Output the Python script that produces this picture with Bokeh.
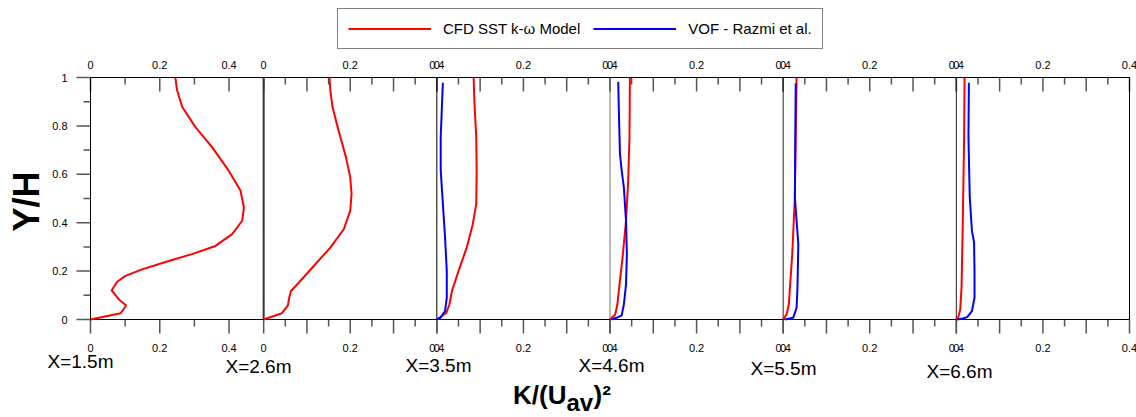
from math import pi
from bokeh.plotting import figure
from bokeh.models import Range1d, Label, Legend, LegendItem
from bokeh.embed import file_html
from bokeh.resources import INLINE

# ---------------- data ----------------
stations = ["X=1.5m", "X=2.6m", "X=3.5m", "X=4.6m", "X=5.5m", "X=6.6m"]
panel_max = [0.5, 0.4, 0.4, 0.4, 0.4, 0.4]
label_ticks = [[0, 0.2, 0.4]] * 6
major_ticks = [[0, 0.2, 0.4]] + [[0, 0.1, 0.2, 0.3, 0.4]] * 5
minor_ticks = [[0.1, 0.3]] + [[0.05, 0.15, 0.25, 0.35]] * 5
y_ticks = [0, 0.2, 0.4, 0.6, 0.8, 1.0]
y_minor = [0.1, 0.3, 0.5, 0.7, 0.9]

# CFD SST k-omega (red), one list per station
cfd_y = [
    [0, 0.026, 0.058, 0.083, 0.120, 0.156, 0.180, 0.207, 0.242, 0.270, 0.304,
     0.353, 0.408, 0.463, 0.533, 0.615, 0.712, 0.795, 0.878, 0.947, 1.0],
    [0, 0.026, 0.058, 0.090, 0.118, 0.152, 0.214, 0.297, 0.373, 0.450, 0.519,
     0.588, 0.671, 0.781, 0.878, 0.947, 1.0],
    [0, 0.028, 0.062, 0.118, 0.200, 0.297, 0.394, 0.477, 0.615, 0.754, 0.892, 1.0],
    [0, 0.021, 0.062, 0.145, 0.256, 0.408, 0.574, 0.754, 1.0],
    [0, 0.021, 0.062, 0.270, 0.505, 0.754, 1.0],
    [0, 0.007, 0.041, 0.131, 0.408, 0.754, 1.0],
]
cfd_k = [
    [0, 0.087, 0.103, 0.082, 0.061, 0.077, 0.101, 0.149, 0.226, 0.293, 0.361,
     0.409, 0.438, 0.443, 0.433, 0.399, 0.351, 0.303, 0.265, 0.250, 0.245],
    [0, 0.042, 0.056, 0.059, 0.063, 0.081, 0.112, 0.154, 0.185, 0.200, 0.203,
     0.200, 0.190, 0.173, 0.159, 0.154, 0.152],
    [0, 0.022, 0.029, 0.035, 0.050, 0.069, 0.083, 0.091, 0.092, 0.091, 0.087, 0.085],
    [0, 0.012, 0.017, 0.022, 0.029, 0.037, 0.042, 0.045, 0.046],
    [0, 0.008, 0.013, 0.021, 0.027, 0.029, 0.031],
    [0, 0.004, 0.009, 0.012, 0.015, 0.018, 0.019],
]

# VOF - Razmi et al. (blue); no data at the first two stations
vof_y = [
    None,
    None,
    [0, 0.007, 0.035, 0.090, 0.200, 0.339, 0.477, 0.615, 0.754, 0.892, 0.978],
    [0, 0.007, 0.017, 0.062, 0.145, 0.270, 0.408, 0.546, 0.615, 0.685, 0.823, 0.982],
    [0, 0.007, 0.048, 0.131, 0.311, 0.408, 0.505, 0.754, 0.975],
    [0, 0.004, 0.010, 0.035, 0.090, 0.200, 0.318, 0.367, 0.505, 0.754, 0.978],
]
vof_k = [
    None,
    None,
    [0, 0.008, 0.019, 0.023, 0.023, 0.019, 0.014, 0.009, 0.009, 0.012, 0.014],
    [0.004, 0.015, 0.027, 0.032, 0.037, 0.039, 0.037, 0.032, 0.027, 0.023, 0.021, 0.019],
    [0.004, 0.023, 0.031, 0.033, 0.035, 0.031, 0.027, 0.028, 0.029],
    [0.002, 0.015, 0.025, 0.036, 0.042, 0.042, 0.041, 0.036, 0.031, 0.028, 0.029],
]

# ---------------- geometry (pixels of the 1136x417 canvas) ----------------
N = len(stations)
W, H = 1136, 417
BOX_L, BOX_R, BOX_T, BOX_B = 90, 1129, 77, 319
PANEL_W = (BOX_R - BOX_L) / N
BOX_H = BOX_B - BOX_T
FONT = "Liberation Sans"
TICK_C = "#555555"
MAJ_LEN, MIN_LEN = 14, 7


def xd(px):      # canvas pixel -> panel units of the main x range
    return (px - BOX_L) / PANEL_W


def yd(py):      # canvas pixel -> Y/H
    return (BOX_B - py) / BOX_H


p = figure(frame_width=W, frame_height=H,
           min_border_left=0, min_border_right=0, min_border_top=0,
           min_border_bottom=0,
           x_range=Range1d(xd(0), xd(W)), y_range=Range1d(yd(H), yd(0)),
           x_axis_type=None, y_axis_type=None,
           output_backend="svg", toolbar_location=None)
p.grid.visible = False
p.outline_line_color = None
p.background_fill_color = "white"
p.border_fill_color = "white"

# one x scale per station: value v of station k sits at k + v / panel_max[k]
p.extra_x_ranges = {
    f"p{k}": Range1d((xd(0) - k) * panel_max[k], (xd(W) - k) * panel_max[k])
    for k in range(N)
}

dy_maj = MAJ_LEN / BOX_H
dy_min = MIN_LEN / BOX_H
dx_maj = MAJ_LEN / PANEL_W
dx_min = MIN_LEN / PANEL_W

# ---- x ticks (top, hanging inside; bottom, hanging outside) ----
for k in range(N):
    rn = f"p{k}"
    for vals, d in ((major_ticks[k], dy_maj), (minor_ticks[k], dy_min)):
        p.segment(x0=vals, y0=[1] * len(vals), x1=vals, y1=[1 - d] * len(vals),
                  x_range_name=rn, line_color=TICK_C, line_width=1.5)
        p.segment(x0=vals, y0=[0] * len(vals), x1=vals, y1=[-d] * len(vals),
                  x_range_name=rn, line_color=TICK_C, line_width=1.5)

# ---- y ticks (outside, left) ----
p.segment(x0=[-dx_maj] * len(y_ticks), y0=y_ticks, x1=[0] * len(y_ticks),
          y1=y_ticks, line_color=TICK_C, line_width=1.5)
p.segment(x0=[-dx_min] * len(y_minor), y0=y_minor, x1=[0] * len(y_minor),
          y1=y_minor, line_color=TICK_C, line_width=1.5)

# ---- station zero lines ----
sep_colors = ["#333333", "#000000", "#777777", "#222222", "#222222"]
sep_widths = [2, 1, 1, 1, 1]
for k in range(1, N):
    p.segment(x0=[0], y0=[0], x1=[0], y1=[1], x_range_name=f"p{k}",
              line_color=sep_colors[k - 1], line_width=sep_widths[k - 1])

# ---- box ----
p.segment(x0=[0, 0, 0, N], y0=[0, 1, 0, 0], x1=[N, N, 0, N], y1=[0, 1, 1, 1],
          line_color="black", line_width=1)

# ---- curves ----
red_r, blue_r = None, None
for k in range(N):
    r = p.line(cfd_k[k], cfd_y[k], x_range_name=f"p{k}",
               line_color="#ff0000", line_width=2)
    red_r = red_r or r
    if vof_k[k] is not None:
        b = p.line(vof_k[k], vof_y[k], x_range_name=f"p{k}",
                   line_color="#0000ff", line_width=2)
        blue_r = blue_r or b


def lab(x, y, text, size, align="center", baseline="middle", bold=False,
        angle=0.0, rn="default"):
    p.add_layout(Label(x=x, y=y, text=text, x_range_name=rn,
                       text_align=align, text_baseline=baseline, angle=angle,
                       text_font=FONT, text_font_size=size,
                       text_font_style="bold" if bold else "normal",
                       text_color="black"))


# ---- tick labels ----
for k in range(N):
    for v in label_ticks[k]:
        for py in (64, 347):
            lab(v, yd(py), "%g" % v, "11px", rn=f"p{k}")
for v in y_ticks:
    lab(xd(67), v, "%g" % v, "11px", align="right")

# ---- station labels ----
st_pos = [(47, 361), (225, 366), (405, 365), (578, 365), (750, 368), (926, 371)]
for name, (px, py) in zip(stations, st_pos):
    lab(xd(px), yd(py), name, "19px", align="left")

# ---- axis titles ----
lab(xd(26), yd(201), "Y/H", "36px", bold=True, angle=pi / 2)
lab(xd(566), yd(394), "K/(U", "26px", align="right", bold=True)
lab(xd(566), yd(402), "av", "24px", align="left", bold=True)
lab(xd(593), yd(394), ")\u00b2", "26px", align="left", bold=True)

# ---- legend ----
legend = Legend(items=[LegendItem(label="CFD SST k-\u03c9 Model", renderers=[red_r]),
                       LegendItem(label="VOF - Razmi et al.", renderers=[blue_r])],
                location=(337, H - 49), orientation="horizontal",
                padding=10, spacing=13, glyph_width=83, glyph_height=19,
                label_standoff=12, label_height=19,
                label_text_font=FONT, label_text_font_size="15px",
                label_text_color="black",
                border_line_color="black", border_line_width=1,
                background_fill_color="white", background_fill_alpha=1,
                margin=0)
p.add_layout(legend)

open("out.html", "w").write(file_html(p, INLINE))
